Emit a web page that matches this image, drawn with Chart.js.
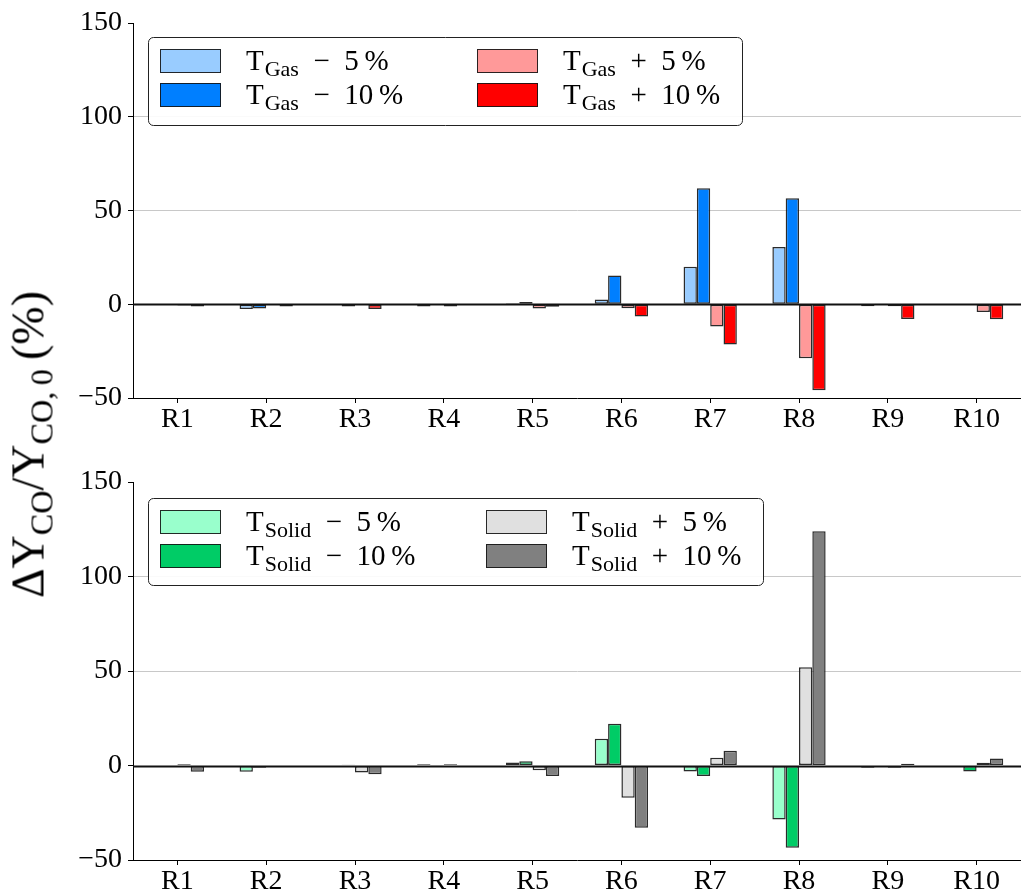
<!DOCTYPE html>
<html>
<head>
<meta charset="utf-8">
<script src="https://cdn.jsdelivr.net/npm/chart.js@4.4.1/dist/chart.umd.min.js"></script>
<style>
  body { margin: 0; background: #fff; width: 1021px; height: 895px; position: relative; overflow: hidden; }
  canvas { position: absolute; left: 0; }
  #gasChart { top: 0; }
  #solidChart { top: 440px; }
  #ylab {
    position: absolute; left: -215px; top: 411px; width: 500px; text-align: center;
    font-family: 'Liberation Serif', serif; font-size: 46px; line-height: 54px;
    transform: rotate(-90deg); white-space: nowrap; color: #000;
  }
  #ylab sub { font-size: 0.7em; vertical-align: -0.28em; }
</style>
</head>
<body>
<canvas id="gasChart" width="1021" height="440"></canvas>
<canvas id="solidChart" width="1021" height="455"></canvas>
<div id="ylab">&Delta;Y<sub>CO</sub>/Y<sub>CO,&thinsp;0</sub>&thinsp;(%)</div>
<script>
const categories = ['R1', 'R2', 'R3', 'R4', 'R5', 'R6', 'R7', 'R8', 'R9', 'R10']
const yTicks = [-50, 0, 50, 100, 150]

// top panel - gas temperature
const gasMinus5 = [-0.4, -2.5, -0.4, -1.2, 0.5, 2.5, 20.0, 30.6, -1.1, -0.3]
const gasMinus10 = [-0.3, -2.2, -1.2, -0.3, 1.2, 15.4, 61.9, 56.6, 0.2, -0.3]
const gasPlus5 = [-0.6, -0.3, -0.2, -1.2, -2.3, -2.1, -11.8, -28.8, -1.0, -4.1]
const gasPlus10 = [-1.2, -1.2, -2.5, -0.3, -1.3, -6.5, -21.4, -45.8, -7.8, -8.0]

// bottom panel - solid temperature
const solidMinus5 = [-0.3, -3.3, -0.2, 0.7, 1.6, 14.1, -3.2, -28.6, -1.2, -0.3]
const solidMinus10 = [-0.2, -1.2, 0.4, -0.1, 2.3, 22.1, -5.5, -43.5, -0.3, -3.2]
const solidPlus5 = [0.7, -0.2, -3.7, 0.7, -2.5, -17.1, 4.1, 52.0, -1.2, 1.4]
const solidPlus10 = [-3.3, -0.2, -4.6, -0.2, -5.6, -32.9, 7.8, 124.0, 0.9, 3.7]

const FONT = "'Liberation Serif', serif"
const MINUS = '\u2212'

const bar = (sub, suffix, color, data) => ({
    label: 'T ' + sub + suffix,
    sub: sub,
    suffix: suffix,
    data: data,
    backgroundColor: color,
    borderColor: 'rgba(20,20,20,0.9)',
    borderWidth: 1.5,
    borderSkipped: false,
    categoryPercentage: 0.6,
    barPercentage: 1.0,
})

// black line at zero, drawn over the bars
const zeroLine = {
    id: 'zeroLine',
    afterDatasetsDraw(chart) {
        const { ctx, chartArea, scales } = chart
        const y = Math.round(scales.y.getPixelForValue(0)) + 0.5
        ctx.save()
        ctx.strokeStyle = '#111'
        ctx.lineWidth = 2
        ctx.beginPath()
        ctx.moveTo(chartArea.left, y)
        ctx.lineTo(chartArea.right, y)
        ctx.stroke()
        ctx.restore()
    }
}

// legend in a frame inside the plot, two columns, with subscripts
const boxLegend = {
    id: 'boxLegend',
    afterDraw(chart, args, opts) {
        const { ctx, chartArea } = chart
        const x0 = chartArea.left + opts.x
        const y0 = chartArea.top + opts.y
        ctx.save()
        ctx.beginPath()
        ctx.roundRect(x0 + 0.5, y0 + 0.5, opts.w, opts.h, 5)
        ctx.fillStyle = 'rgba(255,255,255,0.9)'
        ctx.fill()
        ctx.strokeStyle = '#222'
        ctx.lineWidth = 1
        ctx.stroke()
        chart.data.datasets.forEach((ds, i) => {
            const col = Math.floor(i / 2)
            const row = i % 2
            const px = x0 + opts.colX[col]
            const cy = y0 + opts.rowY[row]
            ctx.fillStyle = ds.backgroundColor
            ctx.fillRect(px, cy - 12, 61, 24)
            ctx.strokeStyle = 'rgba(20,20,20,0.9)'
            ctx.lineWidth = 1
            ctx.strokeRect(px + 0.5, cy - 11.5, 60, 23)
            let tx = px + 86
            const base = cy + 9
            ctx.fillStyle = '#000'
            ctx.textBaseline = 'alphabetic'
            ctx.textAlign = 'left'
            ctx.font = '29px ' + FONT
            ctx.fillText('T', tx, base)
            tx += ctx.measureText('T').width + 1
            ctx.font = '22px ' + FONT
            ctx.fillText(ds.sub, tx, base + 6)
            tx += ctx.measureText(ds.sub).width
            ctx.font = '29px ' + FONT
            ctx.fillText(ds.suffix, tx, base)
        })
        ctx.restore()
    }
}

const makeOptions = (xHeight, padTop, legendOpts) => ({
    responsive: false,
    animation: false,
    layout: { padding: { top: padTop, right: 0, left: 0, bottom: 0 } },
    plugins: {
        legend: { display: false },
        tooltip: { enabled: false },
        boxLegend: legendOpts,
    },
    scales: {
        x: {
            offset: true,
            grid: { offset: false, drawOnChartArea: false, tickLength: 5, tickColor: '#000', tickWidth: 1 },
            border: { color: '#000', width: 1 },
            ticks: { color: '#000', font: { family: FONT, size: 28 }, padding: 0, maxRotation: 0 },
            afterFit: s => { s.height = xHeight },
        },
        y: {
            min: yTicks[0],
            max: yTicks[yTicks.length - 1],
            afterBuildTicks: s => { s.ticks = yTicks.map(v => ({ value: v })) },
            ticks: {
                color: '#000', font: { family: FONT, size: 28 }, padding: 6,
                callback: v => v < 0 ? MINUS + Math.abs(v) : String(v),
            },
            grid: {
                color: c => (c.tick && (c.tick.value === 50 || c.tick.value === 100)) ? '#c8c8c8' : 'rgba(0,0,0,0)',
                tickColor: '#000', tickLength: 5, lineWidth: 1,
            },
            border: { color: '#000', width: 1 },
            afterFit: s => { s.width = 133 },
        }
    }
})

new Chart(document.getElementById('gasChart'), {
    type: 'bar',
    data: {
        labels: categories,
        datasets: [
            bar('Gas', '\u2002' + MINUS + '\u20025\u2009%', '#99ccff', gasMinus5),
            bar('Gas', '\u2002' + MINUS + '\u200210\u2009%', '#007fff', gasMinus10),
            bar('Gas', '\u2002+\u20025\u2009%', '#ff9999', gasPlus5),
            bar('Gas', '\u2002+\u200210\u2009%', '#ff0000', gasPlus10),
        ]
    },
    options: makeOptions(42, 23, { x: 15, y: 14, w: 594, h: 88, colX: [12, 329], rowY: [24, 58] }),
    plugins: [zeroLine, boxLegend],
})

new Chart(document.getElementById('solidChart'), {
    type: 'bar',
    data: {
        labels: categories,
        datasets: [
            bar('Solid', '\u2002' + MINUS + '\u20025\u2009%', '#99ffcc', solidMinus5),
            bar('Solid', '\u2002' + MINUS + '\u200210\u2009%', '#00cc66', solidMinus10),
            bar('Solid', '\u2002+\u20025\u2009%', '#e0e0e0', solidPlus5),
            bar('Solid', '\u2002+\u200210\u2009%', '#808080', solidPlus10),
        ]
    },
    options: makeOptions(35, 42, { x: 15, y: 16, w: 615, h: 87, colX: [12, 338], rowY: [24, 58] }),
    plugins: [zeroLine, boxLegend],
})
</script>
</body>
</html>
